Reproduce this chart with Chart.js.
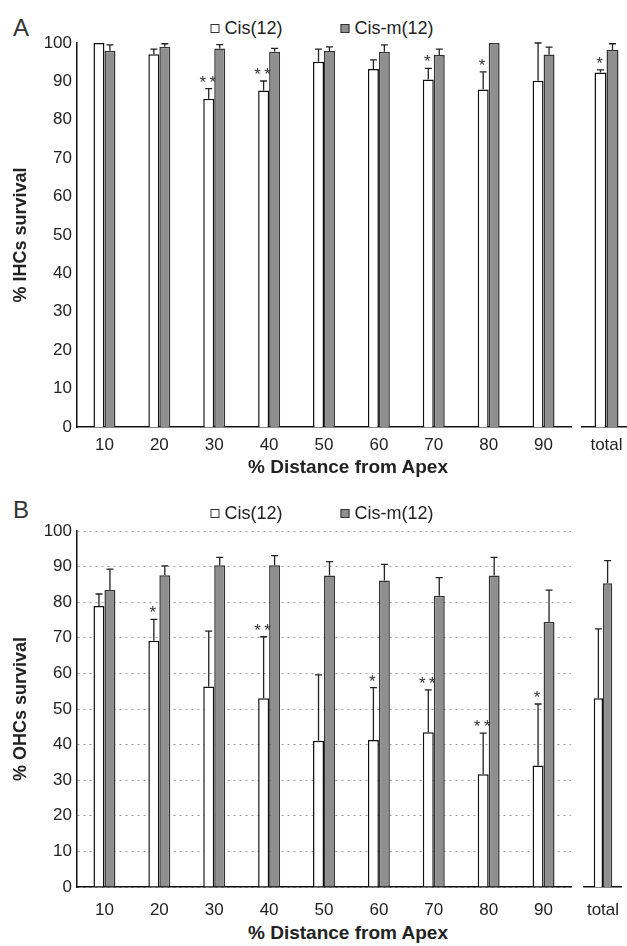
<!DOCTYPE html>
<html>
<head>
<meta charset="utf-8">
<title>IHC / OHC survival</title>
<script src="https://cdn.jsdelivr.net/npm/chart.js@4.4.1/dist/chart.umd.min.js"></script>
<style>
  body { margin: 0; background: #fff; width: 627px; height: 946px; overflow: hidden; position: relative;
         font-family: "Liberation Sans", Arial, sans-serif; color: #222; }
  .abs { position: absolute; }
  .letter { font-size: 24px; line-height: 24px; color: #333; }
  .legend { display: flex; gap: 58px; font-size: 18px; line-height: 20px; transform: translateX(-50%); white-space: nowrap; }
  .legend span.item { display: flex; align-items: center; }
  .legend i { display: inline-block; width: 7px; height: 7px; border: 1px solid #333; margin-right: 5px; }
  .xtitle { font-size: 19px; font-weight: bold; line-height: 20px; transform: translateX(-50%); white-space: nowrap; }
</style>
</head>
<body>

<div class="abs letter" style="left:13px; top:16px;">A</div>
<div class="abs legend" id="legendA" style="left:322px; top:18px;"></div>
<div class="abs" style="left:0; top:0;"><canvas id="mainA" width="575" height="460"></canvas></div>
<div class="abs" style="left:575px; top:0;"><canvas id="totalA" width="56" height="460"></canvas></div>
<div class="abs xtitle" style="left:348px; top:457px;">% Distance from Apex</div>

<div class="abs letter" style="left:13px; top:498px;">B</div>
<div class="abs legend" id="legendB" style="left:322px; top:503px;"></div>
<div class="abs" style="left:0; top:482px;"><canvas id="mainB" width="575" height="438"></canvas></div>
<div class="abs" style="left:575px; top:482px;"><canvas id="totalB" width="56" height="438"></canvas></div>
<div class="abs xtitle" style="left:348px; top:923px;">% Distance from Apex</div>

<script>
// Valores (media y extremo superior de la barra de error)
const categories = ['10', '20', '30', '40', '50', '60', '70', '80', '90'];
const totalLabel = ['total'];
const seriesNames = ['Cis(12)', 'Cis-m(12)'];
const seriesColors = ['#ffffff', '#8f8f8f'];

// A — % IHCs survival
const ihcCis      = [100, 97.1, 85.5, 87.6, 95.1, 93.2, 90.5, 87.9, 90.2];
const ihcCisErr   = [0, 1.3, 2.6, 2.5, 3.3, 2.4, 2.9, 4.6, 9.8];
const ihcCisM     = [98.0, 99.0, 98.6, 97.7, 97.9, 97.7, 96.9, 100, 97.0];
const ihcCisMErr  = [1.5, 0.8, 1.0, 0.9, 1.1, 1.8, 1.5, 0, 1.9];
const ihcStars    = ['', '', '**', '**', '', '', '*', '*', ''];
const ihcTotal    = [92.3, 98.2];
const ihcTotalErr = [0.7, 1.6];
const ihcTotalStars = ['*', ''];

// B — % OHCs survival
const ohcCis      = [78.9, 69.2, 56.3, 53.0, 41.1, 41.3, 43.5, 31.7, 34.1];
const ohcCisErr   = [3.4, 6.0, 15.6, 17.3, 18.5, 14.7, 11.9, 11.5, 17.3];
const ohcCisM     = [83.4, 87.6, 90.4, 90.4, 87.5, 86.1, 81.8, 87.5, 74.5];
const ohcCisMErr  = [5.9, 2.6, 2.2, 2.7, 3.9, 4.5, 5.1, 5.1, 8.9];
const ohcStars    = ['', '*', '', '**', '', '*', '**', '**', '*'];
const ohcTotal    = [53.0, 85.3];
const ohcTotalErr = [19.5, 6.4];
const ohcTotalStars = ['', ''];

Chart.defaults.font.family = '"Liberation Sans", Arial, sans-serif';
Chart.defaults.color = '#222';
Chart.defaults.animation = false;

// barras de error (solo hacia arriba) y asteriscos de significación
const errorBars = {
  id: 'errorBars',
  afterDatasetsDraw(chart) {
    const { ctx } = chart;
    const y = chart.scales.y;
    chart.data.datasets.forEach((ds, i) => {
      chart.getDatasetMeta(i).data.forEach((bar, j) => {
        const err = ds.errors ? ds.errors[j] : 0;
        const top = y.getPixelForValue(ds.data[j] + err);
        ctx.save();
        if (err > 0) {
          ctx.strokeStyle = '#222';
          ctx.lineWidth = 1.3;
          ctx.beginPath();
          ctx.moveTo(bar.x, bar.y);
          ctx.lineTo(bar.x, top);
          ctx.moveTo(bar.x - 3.5, top);
          ctx.lineTo(bar.x + 3.5, top);
          ctx.stroke();
        }
        const star = ds.stars ? ds.stars[j] : '';
        if (star) {
          ctx.fillStyle = '#333';
          ctx.font = '17px "Liberation Sans", Arial, sans-serif';
          ctx.textAlign = 'center';
          ctx.textBaseline = 'alphabetic';
          ctx.fillText(star.split('').join('\u2009'), bar.x - 1, top - 1);
        }
        ctx.restore();
      });
    });
  }
};

function buildDatasets(cisVals, cisErr, cisStars, cismVals, cismErr, barFrac) {
  return [
    { label: seriesNames[0], data: cisVals, errors: cisErr, stars: cisStars,
      backgroundColor: seriesColors[0], borderColor: '#111', borderWidth: 1.5,
      categoryPercentage: barFrac, barPercentage: 1 },
    { label: seriesNames[1], data: cismVals, errors: cismErr,
      backgroundColor: seriesColors[1], borderColor: '#333', borderWidth: 1.5,
      categoryPercentage: barFrac, barPercentage: 1 }
  ];
}

function yScale(show, title, dotted) {
  return {
    display: show,
    min: 0, max: 100,
    ticks: { stepSize: 10, padding: 5, font: { size: 17 }, color: '#222' },
    grid: { display: dotted, color: '#9a9a9a', lineWidth: 1, drawTicks: false },
    border: { display: true, color: '#111', width: 1.5, dash: [2, 4] },
    title: { display: !!title, text: title, font: { size: 18, weight: 'bold' }, color: '#222', padding: { top: 10, bottom: 0 } },
    afterFit: (s) => { if (show) s.width = 77; }
  };
}

function xScale(labelPad) {
  return {
    ticks: { padding: labelPad, font: { size: 17 }, color: '#222' },
    grid: { display: false, drawTicks: false },
    border: { display: true, color: '#111', width: 1.5 },
    afterFit: (s) => { s.height = 33; }
  };
}

function renderLegend(id, datasets) {
  const el = document.getElementById(id);
  datasets.forEach((ds) => {
    const item = document.createElement('span');
    item.className = 'item';
    const box = document.createElement('i');
    box.style.background = ds.backgroundColor;
    item.appendChild(box);
    item.appendChild(document.createTextNode(ds.label));
    el.appendChild(item);
  });
}

function makePanel(p) {
  const mainSets = buildDatasets(p.cis, p.cisErr, p.stars, p.cism, p.cismErr, 0.4);
  new Chart(document.getElementById(p.mainId), {
    type: 'bar',
    data: { labels: categories, datasets: mainSets },
    options: {
      responsive: false,
      layout: { padding: { top: p.top, right: 4, left: 0, bottom: 0 } },
      plugins: { legend: { display: false }, tooltip: { enabled: false } },
      scales: { x: xScale(p.labelPad), y: yScale(true, p.yTitle, p.dotted) }
    },
    plugins: [errorBars]
  });

  const totSets = buildDatasets([p.total[0]], [p.totalErr[0]], [p.totalStars[0]],
                                [p.total[1]], [p.totalErr[1]], 0.49);
  new Chart(document.getElementById(p.totalId), {
    type: 'bar',
    data: { labels: totalLabel, datasets: totSets },
    options: {
      responsive: false,
      layout: { padding: { top: p.top, right: 0, left: 7, bottom: 0 } },
      plugins: { legend: { display: false }, tooltip: { enabled: false } },
      scales: { x: xScale(p.labelPad), y: yScale(false, '', false) }
    },
    plugins: [errorBars]
  });

  renderLegend(p.legendId, mainSets);
}

makePanel({
  mainId: 'mainA', totalId: 'totalA', legendId: 'legendA',
  cis: ihcCis, cisErr: ihcCisErr, stars: ihcStars, cism: ihcCisM, cismErr: ihcCisMErr,
  total: ihcTotal, totalErr: ihcTotalErr, totalStars: ihcTotalStars,
  yTitle: '% IHCs survival', dotted: false, top: 43, labelPad: 8
});

makePanel({
  mainId: 'mainB', totalId: 'totalB', legendId: 'legendB',
  cis: ohcCis, cisErr: ohcCisErr, stars: ohcStars, cism: ohcCisM, cismErr: ohcCisMErr,
  total: ohcTotal, totalErr: ohcTotalErr, totalStars: ohcTotalStars,
  yTitle: '% OHCs survival', dotted: true, top: 49, labelPad: 13
});
</script>
</body>
</html>
